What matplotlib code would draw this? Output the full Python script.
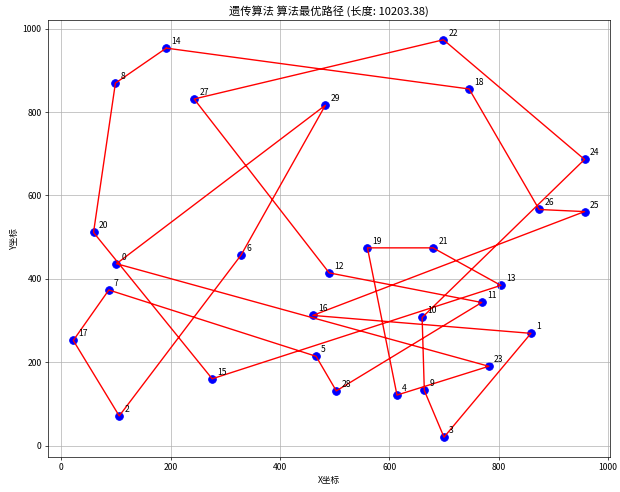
# -*- coding: utf-8 -*-
"""
GA best route plot for a 30-city TSP
"""

import matplotlib
matplotlib.use('Agg')
import matplotlib.pyplot as plt

plt.rcParams['font.family'] = ['Noto Sans CJK SC', 'DejaVu Sans']
plt.rcParams['axes.unicode_minus'] = False

# city coordinates (index = city id)
city_x = [101, 859, 106, 700, 614, 466, 329, 87, 99, 664,
          660, 769, 490, 804, 192, 276, 460, 22, 746, 560,
          59, 680, 699, 782, 957, 957, 874, 243, 503, 483]
city_y = [436, 269, 71, 20, 121, 214, 457, 373, 869, 132,
          307, 343, 414, 384, 953, 160, 312, 252, 855, 474,
          511, 474, 973, 190, 686, 561, 566, 831, 131, 816]

best_route = [14, 8, 20, 15, 13, 21, 19, 4, 23, 0, 29, 6, 2, 17, 7,
              5, 28, 11, 12, 27, 22, 24, 10, 9, 3, 1, 16, 25, 26, 18]
best_length = 10203.38


def plot_route():
    fig, ax = plt.subplots(figsize=(10, 7.94), dpi=62)

    ax.scatter(city_x, city_y, c='blue', s=80)
    for i, (x, y) in enumerate(zip(city_x, city_y)):
        ax.annotate(str(i), (x, y), textcoords='offset points', xytext=(6, 5), fontsize=10)

    loop = best_route + [best_route[0]]
    ax.plot([city_x[i] for i in loop], [city_y[i] for i in loop], color='red', linewidth=1.6)

    ax.set_title(f'遗传算法 算法最优路径 (长度: {best_length:.2f})', fontsize=13)
    ax.set_xlabel('X坐标', fontsize=10)
    ax.set_ylabel('Y坐标', fontsize=10)
    ax.grid(True)

    fig.subplots_adjust(left=0.077, right=0.984, top=0.959, bottom=0.071)
    fig.savefig('out.png', facecolor='white')
    plt.close(fig)


if __name__ == '__main__':
    plot_route()
